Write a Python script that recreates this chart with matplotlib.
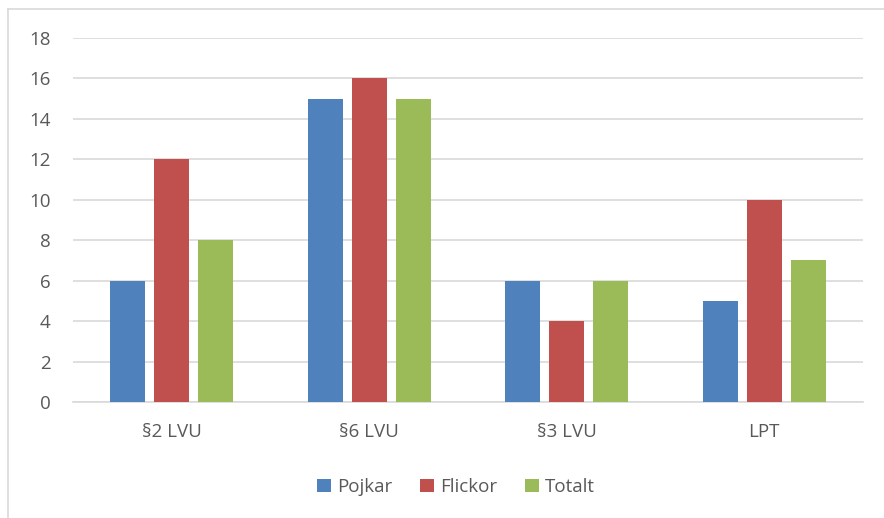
import numpy as np
import matplotlib
matplotlib.use("agg")
import matplotlib.pyplot as plt
from matplotlib.lines import Line2D

categories = ["§2 LVU", "§6 LVU", "§3 LVU", "LPT"]
pojkar = [6, 15, 6, 5]
flickor = [12, 16, 4, 10]
totalt = [8, 15, 6, 7]
series_names = ["Pojkar", "Flickor", "Totalt"]
colors = ["#4F81BD", "#C0504D", "#9BBB59"]

plt.rcParams["font.family"] = ["Open Sans", "DejaVu Sans"]

fig = plt.figure(figsize=(8.84, 5.18), dpi=100)
ax = fig.add_axes([73/884, 1-402/518, 790/884, 364/518])

x = np.arange(len(categories))
bw = 0.177
step = 0.223
for i, (vals, name, c) in enumerate(zip([pojkar, flickor, totalt], series_names, colors)):
    ax.bar(x + (i - 1) * step, vals, width=bw, color=c, label=name, zorder=3)

ax.set_xlim(-0.5, 3.5)
ax.set_ylim(0, 18)
ax.set_yticks(range(0, 19, 2))
ax.yaxis.grid(True, color="#D9D9D9", linewidth=1.2, zorder=0)
for s in ["top", "right", "left"]:
    ax.spines[s].set_visible(False)
ax.spines["bottom"].set_color("#D9D9D9")
ax.spines["bottom"].set_linewidth(1.2)
ax.tick_params(axis="both", length=0, colors="#595959", labelsize=13.5)
ax.tick_params(axis="y", pad=16)
ax.tick_params(axis="x", pad=15)
ax.set_xticks(x)
ax.set_xticklabels(categories)

leg = fig.legend(loc="center", bbox_to_anchor=(456/884, 1-487/518), ncol=3, frameon=False,
                 fontsize=13.5, handlelength=0.75, handleheight=0.75, handletextpad=0.3,
                 columnspacing=1.5)
for t in leg.get_texts():
    t.set_color("#595959")

# chart border (left and top visible)
fig.add_artist(Line2D([8/884, 8/884], [0, 1-9/518], color="#D9D9D9", linewidth=1.2))
fig.add_artist(Line2D([8/884, 1], [1-9/518, 1-9/518], color="#D9D9D9", linewidth=1.2))

fig.savefig("out.png", dpi=100)
